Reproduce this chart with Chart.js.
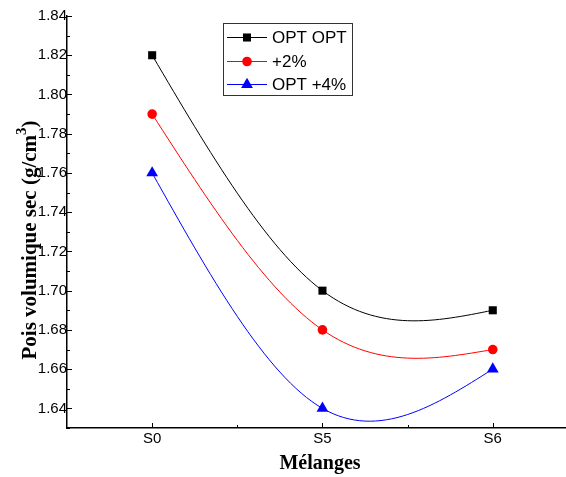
<!DOCTYPE html>
<html>
<head>
<meta charset="utf-8">
<script src="https://cdn.jsdelivr.net/npm/chart.js@4.4.1/dist/chart.umd.min.js"></script>
<style>
  html, body { margin: 0; padding: 0; background: #fff; }
  #wrap { width: 566px; height: 477px; position: relative; }
</style>
</head>
<body>
<div id="wrap"><canvas id="chart"></canvas></div>
<script>
// Values
const categories = ['S0', 'S5', 'S6'];
const optOpt = [1.82, 1.70, 1.69];
const plus2 = [1.79, 1.68, 1.67];
const optPlus4 = [1.76, 1.64, 1.66];
const seriesNames = ['OPT OPT', '+2%', 'OPT +4%'];
const yTicks = [1.64, 1.66, 1.68, 1.70, 1.72, 1.74, 1.76, 1.78, 1.80, 1.82, 1.84];

const fontSans = '"Liberation Sans", Arial, sans-serif';
const fontSerif = '"Liberation Serif", "Times New Roman", serif';

function toPoints(values) {
    return values.map((v, i) => ({ x: i, y: v }));
}

function makeDataset(label, values, color, style, radius) {
    return {
        label: label,
        data: toPoints(values),
        borderColor: color,
        backgroundColor: color,
        borderWidth: 1,
        pointStyle: style,
        pointRadius: radius,
        pointHoverRadius: radius,
        pointBorderWidth: 0,
        tension: 0.4,
        fill: false
    };
}

// the original curves are natural cubic splines: replace the bezier
// control points Chart.js computed with the ones of a natural spline
const naturalSpline = {
    id: 'naturalSpline',
    beforeDatasetDraw(chart, args) {
        const meta = args.meta;
        const pts = meta.data;
        const n = pts.length;
        if (n < 3) return;
        meta.dataset.updateControlPoints(chart.chartArea, 'x');
        const h = [];
        for (let i = 0; i < n - 1; i++) h.push(pts[i + 1].x - pts[i].x);
        // tridiagonal system for second derivatives, M0 = Mn-1 = 0
        const a = new Array(n).fill(0), b = new Array(n).fill(1);
        const c = new Array(n).fill(0), d = new Array(n).fill(0);
        for (let i = 1; i < n - 1; i++) {
            a[i] = h[i - 1];
            b[i] = 2 * (h[i - 1] + h[i]);
            c[i] = h[i];
            d[i] = 6 * ((pts[i + 1].y - pts[i].y) / h[i] - (pts[i].y - pts[i - 1].y) / h[i - 1]);
        }
        for (let i = 1; i < n; i++) {
            const m = a[i] / b[i - 1];
            b[i] -= m * c[i - 1];
            d[i] -= m * d[i - 1];
        }
        const M = new Array(n).fill(0);
        M[n - 1] = d[n - 1] / b[n - 1];
        for (let i = n - 2; i >= 0; i--) M[i] = (d[i] - c[i] * M[i + 1]) / b[i];
        for (let i = 0; i < n - 1; i++) {
            const p = pts[i], q = pts[i + 1], hi = h[i];
            const s0 = (q.y - p.y) / hi - hi * (2 * M[i] + M[i + 1]) / 6;
            const s1 = (q.y - p.y) / hi + hi * (M[i] + 2 * M[i + 1]) / 6;
            p.cp2x = p.x + hi / 3;
            p.cp2y = p.y + s0 * hi / 3;
            q.cp1x = q.x - hi / 3;
            q.cp1y = q.y - s1 * hi / 3;
        }
        meta.dataset._path = undefined;
    }
};

// inward ticks, axis titles and the boxed legend inside the plot
const decorations = {
    id: 'decorations',
    afterDraw(chart) {
        const ctx = chart.ctx;
        const area = chart.chartArea;
        const xs = chart.scales.x;
        const ys = chart.scales.y;
        ctx.save();
        ctx.strokeStyle = '#000';
        ctx.lineWidth = 1;
        ctx.beginPath();
        yTicks.forEach(v => {
            const y = Math.round(ys.getPixelForValue(v)) + 0.5;
            ctx.moveTo(area.left, y);
            ctx.lineTo(area.left + 5, y);
            const ym = Math.round(ys.getPixelForValue(v - 0.01)) + 0.5;
            ctx.moveTo(area.left, ym);
            ctx.lineTo(area.left + 3, ym);
        });
        categories.forEach((c, i) => {
            const x = Math.round(xs.getPixelForValue(i)) + 0.5;
            ctx.moveTo(x, area.bottom);
            ctx.lineTo(x, area.bottom - 5);
            const xm = Math.round(xs.getPixelForValue(i + 0.5)) + 0.5;
            ctx.moveTo(xm, area.bottom);
            ctx.lineTo(xm, area.bottom - 3);
        });
        ctx.stroke();

        // axis titles
        ctx.fillStyle = '#000';
        ctx.textBaseline = 'middle';
        ctx.textAlign = 'center';
        ctx.font = 'bold 20px ' + fontSerif;
        ctx.fillText('Mélanges', 320, 464);

        ctx.save();
        ctx.translate(31, 240);
        ctx.rotate(-Math.PI / 2);
        const main = 'Pois volumique sec (g/cm';
        ctx.font = 'bold 21px ' + fontSerif;
        const wMain = ctx.measureText(main).width;
        const wClose = ctx.measureText(')').width;
        ctx.font = 'bold 15px ' + fontSerif;
        const wSup = ctx.measureText('3').width;
        let x0 = -(wMain + wSup + wClose) / 2;
        ctx.textAlign = 'left';
        ctx.font = 'bold 21px ' + fontSerif;
        ctx.fillText(main, x0, 0);
        ctx.font = 'bold 15px ' + fontSerif;
        ctx.fillText('3', x0 + wMain, -9);
        ctx.font = 'bold 21px ' + fontSerif;
        ctx.fillText(')', x0 + wMain + wSup, 0);
        ctx.restore();

        // legend box
        ctx.lineWidth = 1;
        ctx.strokeStyle = '#333';
        ctx.strokeRect(223.5, 23.5, 129, 72);
        const rows = [37, 61, 84];
        ctx.font = '17px ' + fontSans;
        ctx.textAlign = 'left';
        chart.data.datasets.forEach((ds, i) => {
            const y = rows[i];
            ctx.strokeStyle = ds.borderColor;
            ctx.beginPath();
            ctx.moveTo(227, y + 0.5);
            ctx.lineTo(267, y + 0.5);
            ctx.stroke();
            ctx.fillStyle = ds.backgroundColor;
            Chart.helpers.drawPoint(ctx, {
                pointStyle: ds.pointStyle,
                radius: ds.pointRadius,
                borderWidth: 0,
                rotation: 0
            }, 247, y + 0.5);
            ctx.fillStyle = '#000';
            ctx.fillText(ds.label, 272, y + 1);
        });
        ctx.restore();
    }
};

const ctx = document.getElementById('chart').getContext('2d');
const chart = new Chart(ctx, {
    type: 'line',
    data: {
        datasets: [
            makeDataset(seriesNames[0], optOpt, '#000000', 'rect', 5.7),
            makeDataset(seriesNames[1], plus2, '#ff0000', 'circle', 4.8),
            makeDataset(seriesNames[2], optPlus4, '#0000ff', 'triangle', 6.8)
        ]
    },
    options: {
        responsive: true,
        maintainAspectRatio: false,
        animation: false,
        layout: { autoPadding: false, padding: { top: 16, left: 0, right: 0, bottom: 0 } },
        plugins: {
            legend: { display: false },
            tooltip: { enabled: false }
        },
        scales: {
            x: {
                type: 'linear',
                min: -0.5,
                max: 2.43,
                afterBuildTicks: s => { s.ticks = categories.map((c, i) => ({ value: i })); },
                afterFit: s => { s.height = 49; },
                grid: { display: false, drawTicks: false },
                border: { display: true, color: '#000', width: 1.5 },
                ticks: {
                    padding: 2,
                    color: '#000',
                    maxRotation: 0,
                    autoSkip: false,
                    font: { family: fontSans, size: 15 },
                    callback: v => categories[v] !== undefined ? categories[v] : ''
                }
            },
            y: {
                type: 'linear',
                min: 1.63,
                max: 1.84,
                afterBuildTicks: s => { s.ticks = yTicks.map(v => ({ value: v })); },
                afterFit: s => { s.width = 67; },
                grid: { display: false, drawTicks: false },
                border: { display: true, color: '#000', width: 1.5 },
                ticks: {
                    padding: 0,
                    color: '#000',
                    font: { family: fontSans, size: 15 },
                    callback: v => Number(v).toFixed(2)
                }
            }
        }
    },
    plugins: [naturalSpline, decorations]
});
</script>
</body>
</html>
